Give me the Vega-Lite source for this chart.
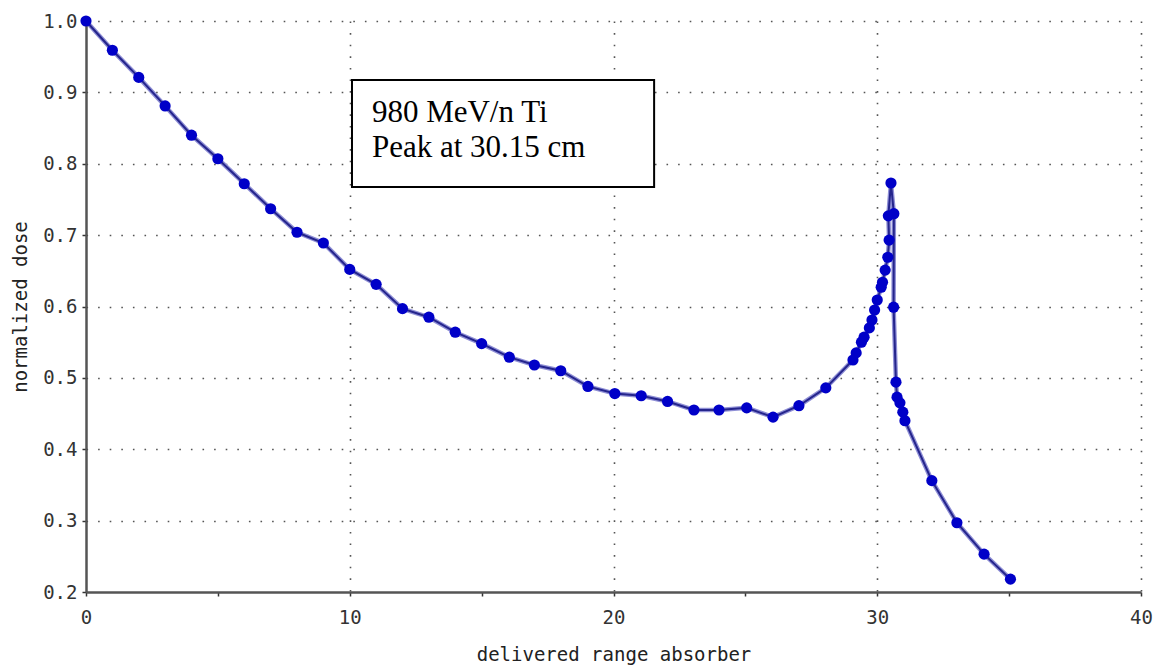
{
  "$schema": "https://vega.github.io/schema/vega-lite/v6.json",
  "width": 1055,
  "height": 571,
  "autosize": {"type": "none"},
  "padding": {"left": 86, "top": 21, "right": 18, "bottom": 78},
  "background": "white",
  "config": {
    "view": {"stroke": null},
    "axis": {
      "labelFont": "DejaVu Sans Mono",
      "titleFont": "DejaVu Sans Mono",
      "labelFontSize": 19,
      "titleFontSize": 19,
      "titleFontWeight": "normal",
      "labelColor": "#333333",
      "titleColor": "#222222",
      "domainColor": "#555555",
      "domainWidth": 2.5,
      "tickColor": "#333333",
      "tickWidth": 1.5,
      "tickSize": 4,
      "gridColor": "#555555",
      "gridWidth": 1.6,
      "gridDash": [1.6, 10]
    }
  },
  "datasets": {
    "dose": [
      {"i": 1, "x": 0, "y": 1.0},
      {"i": 2, "x": 1, "y": 0.959},
      {"i": 3, "x": 2, "y": 0.921},
      {"i": 4, "x": 3, "y": 0.881},
      {"i": 5, "x": 4, "y": 0.840},
      {"i": 6, "x": 5, "y": 0.807},
      {"i": 7, "x": 6, "y": 0.772},
      {"i": 8, "x": 7, "y": 0.737},
      {"i": 9, "x": 8, "y": 0.704},
      {"i": 10, "x": 9, "y": 0.689},
      {"i": 11, "x": 10, "y": 0.652},
      {"i": 12, "x": 11, "y": 0.631},
      {"i": 13, "x": 12, "y": 0.597},
      {"i": 14, "x": 13, "y": 0.585},
      {"i": 15, "x": 14, "y": 0.564},
      {"i": 16, "x": 15, "y": 0.548},
      {"i": 17, "x": 16.05, "y": 0.529},
      {"i": 18, "x": 17, "y": 0.518},
      {"i": 19, "x": 18, "y": 0.510},
      {"i": 20, "x": 19.03, "y": 0.488},
      {"i": 21, "x": 20.05, "y": 0.478},
      {"i": 22, "x": 21.05, "y": 0.475},
      {"i": 23, "x": 22.05, "y": 0.467},
      {"i": 24, "x": 23.05, "y": 0.455},
      {"i": 25, "x": 24, "y": 0.455},
      {"i": 26, "x": 25.05, "y": 0.458},
      {"i": 27, "x": 26.05, "y": 0.445},
      {"i": 28, "x": 27.03, "y": 0.461},
      {"i": 29, "x": 28.05, "y": 0.486},
      {"i": 30, "x": 29.08, "y": 0.525},
      {"i": 31, "x": 29.2, "y": 0.535},
      {"i": 32, "x": 29.4, "y": 0.550},
      {"i": 33, "x": 29.5, "y": 0.557},
      {"i": 34, "x": 29.7, "y": 0.570},
      {"i": 35, "x": 29.8, "y": 0.581},
      {"i": 36, "x": 29.9, "y": 0.595},
      {"i": 37, "x": 30.0, "y": 0.609},
      {"i": 38, "x": 30.15, "y": 0.627},
      {"i": 39, "x": 30.2, "y": 0.634},
      {"i": 40, "x": 30.3, "y": 0.651},
      {"i": 41, "x": 30.4, "y": 0.669},
      {"i": 42, "x": 30.45, "y": 0.693},
      {"i": 43, "x": 30.42, "y": 0.727},
      {"i": 44, "x": 30.52, "y": 0.773},
      {"i": 45, "x": 30.63, "y": 0.730},
      {"i": 46, "x": 30.62, "y": 0.599},
      {"i": 47, "x": 30.71, "y": 0.494},
      {"i": 48, "x": 30.75, "y": 0.473},
      {"i": 49, "x": 30.86, "y": 0.465},
      {"i": 50, "x": 30.97, "y": 0.452},
      {"i": 51, "x": 31.05, "y": 0.440},
      {"i": 52, "x": 32.07, "y": 0.356},
      {"i": 53, "x": 33.02, "y": 0.297},
      {"i": 54, "x": 34.05, "y": 0.253},
      {"i": 55, "x": 35.05, "y": 0.218}
    ],
    "box": [
      {"x1": 10.085, "x2": 21.54, "y1": 0.9174, "y2": 0.7675}
    ],
    "notes": [
      {"x": 10.84, "y": 0.8585, "label": "980 MeV/n Ti"},
      {"x": 10.84, "y": 0.8095, "label": "Peak at 30.15 cm"}
    ]
  },
  "layer": [
    {
      "data": {"name": "dose"},
      "mark": {"type": "line", "color": "#8f8fd6", "strokeWidth": 4.5},
      "encoding": {
        "x": {
          "field": "x", "type": "quantitative",
          "scale": {"domain": [0, 40], "nice": false, "zero": false},
          "axis": {
            "title": "delivered range absorber",
            "values": [0, 5, 10, 15, 20, 25, 30, 35, 40],
            "labelExpr": "datum.value % 10 === 0 ? datum.label : ''",
            "labelPadding": 12,
            "titlePadding": 18,
            "grid": true,
            "gridOpacity": {"condition": {"test": "datum.value % 10 === 0 && datum.value > 0", "value": 1}, "value": 0},
            "labelFlush": false
          }
        },
        "y": {
          "field": "y", "type": "quantitative",
          "scale": {"domain": [0.2, 1.0], "nice": false, "zero": false},
          "axis": {
            "title": "normalized dose",
            "values": [0.2, 0.25, 0.3, 0.35, 0.4, 0.45, 0.5, 0.55, 0.6, 0.65, 0.7, 0.75, 0.8, 0.85, 0.9, 0.95, 1.0],
            "labelExpr": "abs(round(datum.value * 100) % 10) < 0.5 ? format(datum.value, '.1f') : ''",
            "labelPadding": 5,
            "titlePadding": 12,
            "grid": true,
            "gridOpacity": {"condition": {"test": "abs(round(datum.value * 100) % 10) < 0.5 && datum.value > 0.25", "value": 1}, "value": 0},
            "labelFlush": false
          }
        },
        "order": {"field": "i", "type": "quantitative"}
      }
    },
    {
      "data": {"name": "dose"},
      "mark": {"type": "line", "color": "#25258c", "strokeWidth": 2},
      "encoding": {
        "x": {"field": "x", "type": "quantitative"},
        "y": {"field": "y", "type": "quantitative"},
        "order": {"field": "i", "type": "quantitative"}
      }
    },
    {
      "data": {"name": "dose"},
      "mark": {"type": "circle", "color": "#0000c8", "opacity": 1, "size": 125},
      "encoding": {
        "x": {"field": "x", "type": "quantitative"},
        "y": {"field": "y", "type": "quantitative"}
      }
    },
    {
      "data": {"name": "box"},
      "mark": {"type": "rect", "fill": "white", "stroke": "black", "strokeWidth": 2},
      "encoding": {
        "x": {"field": "x1", "type": "quantitative"},
        "x2": {"field": "x2"},
        "y": {"field": "y1", "type": "quantitative"},
        "y2": {"field": "y2"}
      }
    },
    {
      "data": {"name": "notes"},
      "mark": {"type": "text", "font": "Liberation Serif", "fontSize": 31, "align": "left", "baseline": "alphabetic", "color": "black"},
      "encoding": {
        "x": {"field": "x", "type": "quantitative"},
        "y": {"field": "y", "type": "quantitative"},
        "text": {"field": "label"}
      }
    }
  ]
}
